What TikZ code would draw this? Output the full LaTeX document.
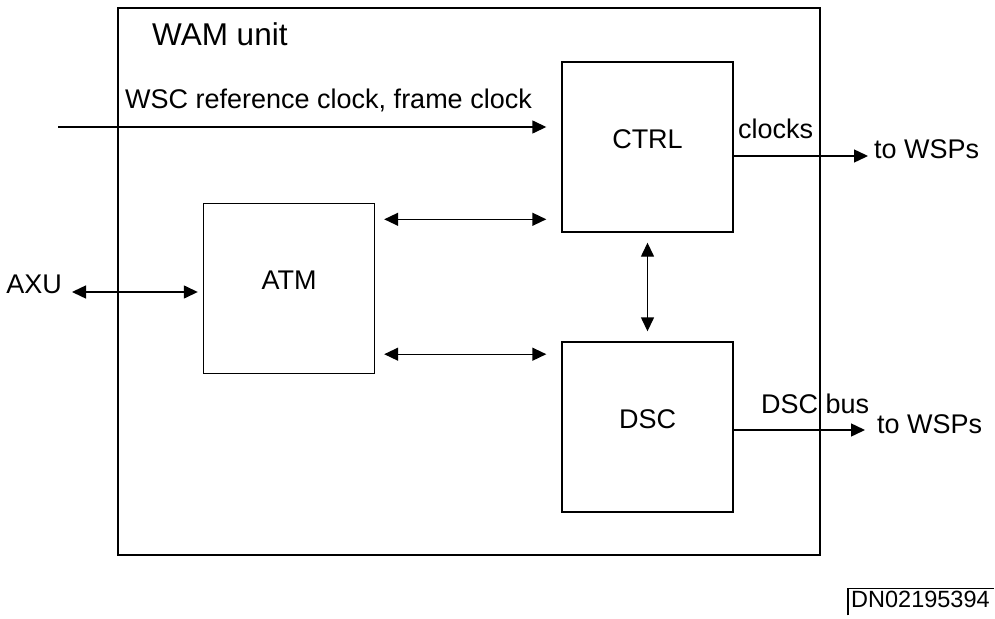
\documentclass[tikz,border=0pt]{standalone}
\usepackage{fontspec}
\setmainfont{Liberation Sans}
\usetikzlibrary{positioning,arrows.meta}

\begin{document}
\begin{tikzpicture}[x=1pt,y=-1pt,
    blk/.style={draw,line width=1.4pt,minimum width=171pt,minimum height=170pt,inner sep=0pt,text height=19pt,text depth=17pt,font=\fontsize{27}{31}\selectfont},
    lbl/.style={inner sep=0pt,font=\fontsize{27}{31}\selectfont},
    arr/.style={line width=1.4pt,-{Triangle[length=14pt,width=13pt]}},
    darr/.style={line width=1.4pt,{Triangle[length=14pt,width=13pt]}-{Triangle[length=14pt,width=13pt]}}]
        \useasboundingbox (0,0) rectangle (995,618);
        \node[draw,line width=1.4pt,minimum width=702pt,minimum height=547pt] (wam) at (469,281.5) {};
        \node[lbl,font=\fontsize{31.5}{36}\selectfont,anchor=base west] (wamlbl) at (152,46) {WAM unit};
        \node[blk] (ctrl) at (647.5,147) {CTRL};
        \node[blk] (dsc) at (647.5,427) {DSC};
        \node[blk] (atm) at (289,288.5) {ATM};
        % clock input
        \coordinate (wscin) at (58,127);
        \node[lbl,anchor=base west] (wsclbl) at (125,108) {WSC reference clock, frame clock};
        \draw[arr,shorten >=15pt] (wscin) -- (wscin -| ctrl.west);
        % outputs
        \coordinate (clkout) at (868,156);
        \node[lbl,anchor=base west] (clklbl) at (738,138) {clocks};
        \node[lbl,anchor=base west] (tow1) at (874,158) {to WSPs};
        \draw[arr] (clkout -| ctrl.east) -- (clkout);
        \coordinate (busout) at (865,430);
        \node[lbl,anchor=base west] (buslbl) at (761,413) {DSC bus};
        \node[lbl,anchor=base west] (tow2) at (877,433) {to WSPs};
        \draw[arr] (busout -| dsc.east) -- (busout);
        % internal links
        \draw[darr,shorten <=9pt,shorten >=15pt] ([yshift=-16.5pt]atm.north east) -- ([yshift=-16.5pt]atm.north east -| ctrl.west);
        \draw[darr,shorten <=9pt,shorten >=15pt] ([yshift=20pt]atm.south east) -- ([yshift=20pt]atm.south east -| dsc.west);
        \draw[darr,shorten <=10pt,shorten >=10pt] (ctrl.south) -- (dsc.north);
        % AXU
        \node[lbl,anchor=base east] (axu) at (62,293) {AXU};
        \draw[darr,shorten <=10pt,shorten >=5pt] ([yshift=-3.5pt]atm.west -| axu.east) -- ([yshift=-3.5pt]atm.west);
        % document number
        \node[lbl,font=\fontsize{23.5}{27}\selectfont,anchor=base west] (dn) at (851,607) {DN02195394};
        \draw[line width=1.2pt] ([xshift=-3pt,yshift=-8pt]dn.south west) |- ([xshift=4pt,yshift=2pt]dn.north east);
\end{tikzpicture}
\end{document}
